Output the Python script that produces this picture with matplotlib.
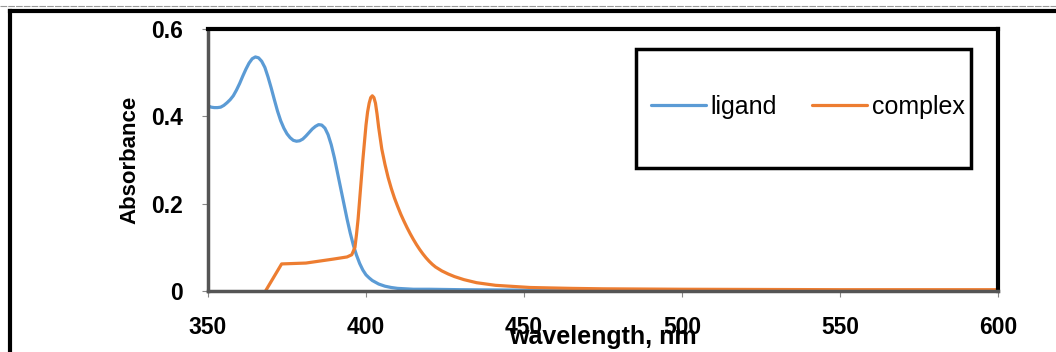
import matplotlib.pyplot as plt
from matplotlib.lines import Line2D
from matplotlib.patches import Rectangle

# UV-vis spectra
ligand_nm = [350, 351, 352, 353, 354, 355, 356, 357, 358, 359, 360, 361, 362, 363, 364, 365,
             366, 367, 368, 369, 370, 371, 372, 373, 374, 375, 376, 377, 378, 379, 380, 381,
             382, 383, 384, 385, 386, 387, 388, 389, 390, 391, 392, 393, 394, 395, 396, 397,
             398, 399, 400, 401, 402, 404, 406, 408, 410, 415, 420, 430, 450, 500, 550, 600]
ligand_abs = [0.424, 0.421, 0.420, 0.420, 0.421, 0.425, 0.431, 0.438, 0.447, 0.460, 0.475,
              0.492, 0.508, 0.522, 0.532, 0.536, 0.534, 0.526, 0.512, 0.490, 0.465, 0.438,
              0.412, 0.390, 0.373, 0.360, 0.351, 0.345, 0.343, 0.344, 0.348, 0.355, 0.363,
              0.371, 0.377, 0.381, 0.380, 0.373, 0.358, 0.335, 0.305, 0.270, 0.235, 0.200,
              0.165, 0.133, 0.105, 0.082, 0.063, 0.048, 0.037, 0.030, 0.024, 0.016, 0.011,
              0.008, 0.006, 0.004, 0.004, 0.003, 0.002, 0.001, 0.001, 0.001]

complex_nm = [368.2, 373.3, 381, 389.6, 394, 395.5, 396.5, 397, 397.5, 398, 398.5, 399, 399.5,
              400, 400.5, 401, 401.5, 402, 402.5, 403, 403.5, 404, 405, 406, 407, 408, 409,
              410, 411, 412, 413, 414, 415, 416, 417, 418, 419, 420, 421, 422, 424, 426, 428,
              431, 435, 441, 452, 465, 475, 500, 550, 600]
complex_abs = [0.0, 0.062, 0.064, 0.073, 0.078, 0.083, 0.100, 0.130, 0.165, 0.210, 0.255,
               0.300, 0.340, 0.380, 0.410, 0.430, 0.443, 0.447, 0.443, 0.430, 0.405, 0.375,
               0.325, 0.290, 0.260, 0.235, 0.213, 0.194, 0.176, 0.160, 0.145, 0.131, 0.118,
               0.106, 0.095, 0.085, 0.076, 0.068, 0.061, 0.055, 0.046, 0.039, 0.033, 0.026,
               0.019, 0.013, 0.008, 0.006, 0.005, 0.004, 0.003, 0.003]

x_ticks = [350, 400, 450, 500, 550, 600]
y_ticks = [0, 0.2, 0.4, 0.6]
y_tick_labels = ["0", "0.2", "0.4", "0.6"]

plt.rcParams['font.family'] = ['Liberation Sans', 'DejaVu Sans']

fig = plt.figure(figsize=(10.56, 3.52), dpi=100)
ax = fig.add_axes([208/1056, 61/352, 790/1056, 262/352])

ax.plot(ligand_nm, ligand_abs, color='#5B9BD5', lw=2.3, label='ligand',
        solid_capstyle='round', solid_joinstyle='round')
ax.plot(complex_nm, complex_abs, color='#ED7D31', lw=2.3, label='complex',
        solid_capstyle='round', solid_joinstyle='round')

ax.set_xlim(350, 600)
ax.set_ylim(0, 0.6)
ax.set_xticks(x_ticks)
ax.set_yticks(y_ticks)
ax.set_yticklabels(y_tick_labels)
ax.tick_params(direction='out', length=4.5, width=0.8, color='#888888', pad=13.5,
               labelsize=16.5)
for lab in ax.get_xticklabels() + ax.get_yticklabels():
    lab.set_fontweight('bold')

ax.set_ylabel('Absorbance', fontsize=16, fontweight='bold', labelpad=8)
ax.set_xlabel('wavelength, nm', fontsize=18, fontweight='bold', labelpad=-10)

ax.spines['top'].set_color('black')
ax.spines['top'].set_linewidth(3)
ax.spines['right'].set_color('black')
ax.spines['right'].set_linewidth(3)
ax.spines['left'].set_color('#555555')
ax.spines['left'].set_linewidth(2.5)
ax.spines['bottom'].set_color('#555555')
ax.spines['bottom'].set_linewidth(2.5)

leg = ax.legend(loc='center', bbox_to_anchor=(808/1056, 1 - 107/352),
                bbox_transform=fig.transFigure, ncol=2, frameon=False, fontsize=18,
                handlelength=2.2, handletextpad=0.2, columnspacing=1.4)

# legend box
fig.add_artist(Rectangle((636/1056, 1 - 168/352), 335/1056, 119/352, transform=fig.transFigure,
                         fill=False, edgecolor='black', lw=2.5))

# outer page frame
fig.add_artist(Line2D([0, 1], [1 - 6/352, 1 - 6/352], transform=fig.transFigure,
                      color='#999999', lw=0.8, ls=(0, (6, 1))))
fig.add_artist(Line2D([10/1056, 1], [1 - 11/352, 1 - 11/352], transform=fig.transFigure,
                      color='black', lw=3))
fig.add_artist(Line2D([10/1056, 10/1056], [0, 1 - 11/352], transform=fig.transFigure,
                      color='black', lw=3))

fig.savefig('out.png', dpi=100)
